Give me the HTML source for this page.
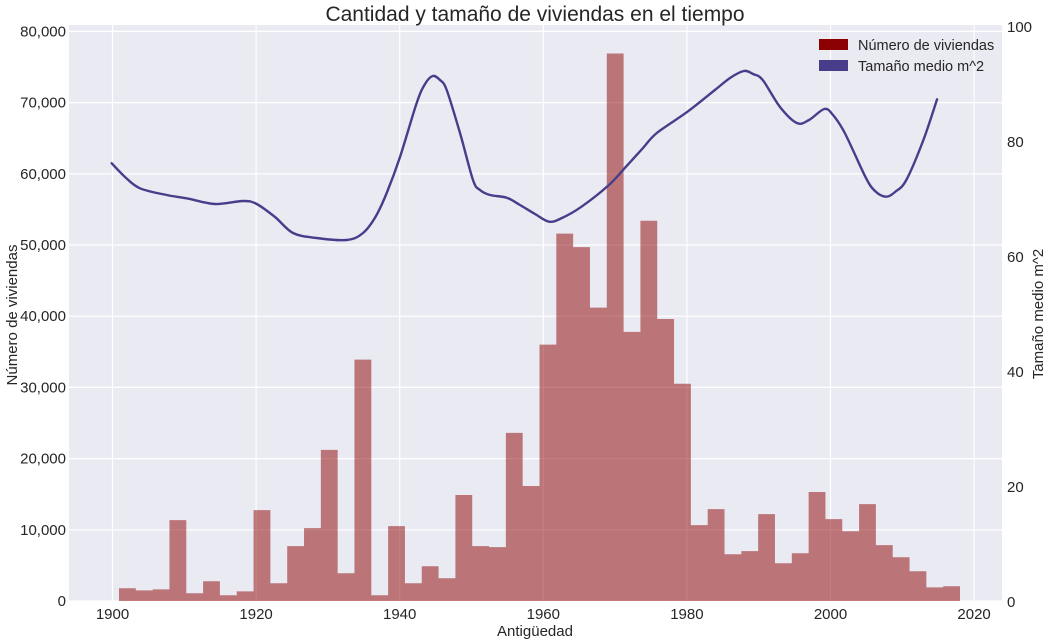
<!DOCTYPE html>
<html><head><meta charset="utf-8">
<style>
html,body{margin:0;padding:0;background:#fff;}
svg{display:block;font-family:"Liberation Sans",Arial,sans-serif;}
</style></head>
<body>
<svg id="s" width="1057" height="640" viewBox="0 0 1057 640" xmlns="http://www.w3.org/2000/svg">
<rect x="69" y="25" width="933" height="576" fill="#eaeaf2"/>
<g id="grid" stroke="#ffffff" stroke-width="1.2"></g>
<path id="bars" fill="#8b0000" fill-opacity="0.5"/>
<path id="ln" fill="none" stroke="#483d8b" stroke-width="2.4" stroke-linejoin="round" stroke-linecap="round"/>
<g id="lt" font-size="15" fill="#262626" text-anchor="end"></g>
<g id="rt" font-size="15" fill="#262626" text-anchor="start"></g>
<g id="xt" font-size="15" fill="#262626" text-anchor="middle"></g>
<text x="535" y="21" font-size="21" fill="#262626" text-anchor="middle">Cantidad y tamaño de viviendas en el tiempo</text>
<text x="535" y="636" font-size="15" fill="#262626" text-anchor="middle">Antigüedad</text>
<text transform="translate(17,315) rotate(-90)" font-size="15" fill="#262626" text-anchor="middle">Número de viviendas</text>
<text transform="translate(1043,314) rotate(-90)" font-size="15" fill="#262626" text-anchor="middle">Tamaño medio m^2</text>
<rect x="819" y="39" width="29" height="11" fill="#8b0000"/>
<rect x="819" y="60" width="29" height="11" fill="#483d8b"/>
<text x="858" y="50" font-size="14.5" fill="#262626">Número de viviendas</text>
<text x="858" y="71" font-size="14.5" fill="#262626">Tamaño medio m^2</text>
</svg>
<script>
var NS="http://www.w3.org/2000/svg";
function el(p,t,a,txt){var e=document.createElementNS(NS,t);for(var k in a)e.setAttribute(k,a[k]);if(txt!==undefined)e.textContent=txt;document.getElementById(p).appendChild(e);}
var y0=601,sc=71.2/10000;
for(var k=0;k<=8;k++){var y=y0-k*10000*sc;el("grid","line",{x1:69,x2:1002,y1:y,y2:y});
 el("lt","text",{x:66,y:y+5},(k*10000).toLocaleString("en-US"));}
for(var i=0;i<7;i++){var x=112.5+143.6*i;el("grid","line",{x1:x,x2:x,y1:25,y2:601});el("xt","text",{x:x,y:619},String(1900+20*i));}
for(var k=0;k<=5;k++){var y=602-k*115;el("rt","text",{x:1007,y:y+5},String(k*20));}
var v=[1784,1500,1640,11360,1080,2770,800,1360,12770,2490,7700,10240,21220,3900,33900,800,10520,2490,4880,3190,14880,7700,7560,23620,16150,36000,51600,49700,41200,76900,37800,53400,39600,30520,10660,12910,6570,7000,12200,5300,6700,15300,11500,9800,13600,7840,6150,4180,1920,2070];
var w=(960-119)/50,bd="";
for(var i=0;i<v.length;i++){var h=v[i]*sc,x=119+i*w;bd+="M"+x.toFixed(2)+","+y0+"V"+(y0-h).toFixed(2)+"H"+(x+w).toFixed(2)+"V"+y0+"Z";}
document.getElementById("bars").setAttribute("d",bd);
var pts=[[111.7,163.3],[125,177],[140,188.3],[166.7,195],[186.7,198.3],[215,204],[243,201],[256.7,204],[275,217],[293,233],[316.7,238],[346.7,240],[363,233],[376,216],[386.7,193],[400,157],[416.7,103],[425,84],[432.7,76],[440,80],[446.7,90],[460,133],[473,180],[480,190],[490,195],[506.7,197.7],[520,205],[535,214],[549.1,221.7],[562,218],[581.5,206.7],[608.9,185],[626,166.7],[643,148],[656.8,133],[687.5,111.7],[714.9,90],[730,78],[743.9,71],[753,74],[762.7,80],[779.8,106.7],[796.9,123],[809,120],[824.3,109],[833,115],[844.8,133],[865.3,176.7],[875,191],[885.8,196.7],[895,192],[906.3,180],[923.4,140],[937.1,99.3]];
var d="M"+pts[0][0]+","+pts[0][1];
for(var i=0;i<pts.length-1;i++){
 var p0=pts[Math.max(0,i-1)],p1=pts[i],p2=pts[i+1],p3=pts[Math.min(pts.length-1,i+2)];
 var c1x=p1[0]+(p2[0]-p0[0])/6,c1y=p1[1]+(p2[1]-p0[1])/6;
 var c2x=p2[0]-(p3[0]-p1[0])/6,c2y=p2[1]-(p3[1]-p1[1])/6;
 d+=" C"+c1x.toFixed(1)+","+c1y.toFixed(1)+" "+c2x.toFixed(1)+","+c2y.toFixed(1)+" "+p2[0]+","+p2[1];
}
document.getElementById("ln").setAttribute("d",d);
</script>
</body></html>
